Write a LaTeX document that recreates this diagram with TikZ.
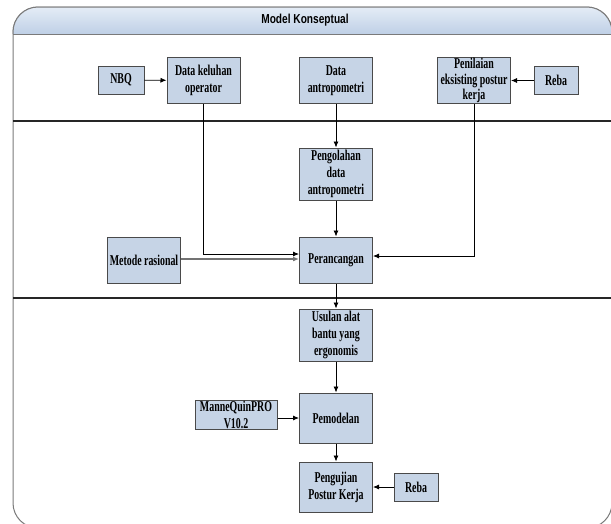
\documentclass[tikz,border=0pt]{standalone}
\usepackage{fontspec}
\setmainfont{Liberation Serif}[FakeStretch=0.66]
\newfontfamily\titlefont{Liberation Sans}[FakeStretch=0.78]
\usetikzlibrary{arrows.meta}
\definecolor{boxfill}{HTML}{C6D4E6}
\definecolor{boxline}{HTML}{4A4A4A}
\definecolor{headtop}{HTML}{E4ECF6}
\definecolor{headbot}{HTML}{BFD0E6}
\definecolor{framegray}{HTML}{7A7A7A}
\tikzset{
  procbox/.style={draw=boxline, line width=1pt, fill=boxfill, align=center,
    inner sep=1pt, font=\bfseries\fontsize{15}{17}\selectfont},
  conn/.style={draw=black, line width=0.8pt, -{Latex[length=6pt,width=5pt]}},
  divider/.style={draw=black!85, line width=1.6pt}
}
\begin{document}
\begin{tikzpicture}[x=1pt,y=-1pt]
\useasboundingbox (0,0) rectangle (611,523);
\begin{scope}
\clip (0,0) rectangle (611,523);
% frame
\draw[framegray, line width=1pt, fill=white, rounded corners=25pt] (13,7) rectangle (612,528);
\begin{scope}
\clip[rounded corners=25pt] (13,7) rectangle (612,528);
\shade[top color=headtop, bottom color=headbot] (13,7) rectangle (612,34);
\end{scope}
\draw[framegray, line width=1pt, rounded corners=25pt] (13,34) -- (13,7) -- (612,7) -- (612,34);
\draw[framegray, line width=1pt] (13,34) -- (612,34);
\node[font=\titlefont\bfseries\fontsize{13}{15}\selectfont] (title) at (305,20) {Model Konseptual};
% dividers
\draw[divider] (13,121) -- (612,121);
\draw[divider] (13,298) -- (612,298);
\end{scope}
% nodes
\node[procbox, minimum width=46pt, minimum height=28pt] (nbq) at (121,80) {NBQ};
\node[procbox, minimum width=73pt, minimum height=46pt] (kel) at (203.5,80.5) {Data keluhan\\operator};
\node[procbox, minimum width=73pt, minimum height=46pt] (ant) at (336,80.5) {Data\\antropometri};
\node[procbox, minimum width=73pt, minimum height=46pt, inner sep=0pt,
  font=\bfseries\fontsize{15}{15.5}\selectfont] (pen) at (474,80.5) {Penilaian\\eksisting postur\\kerja};
\node[procbox, minimum width=44pt, minimum height=28pt] (reba1) at (556,80.5) {Reba};
\node[procbox, minimum width=73pt, minimum height=52pt] (olah) at (336,174) {Pengolahan\\data\\antropometri};
\node[procbox, minimum width=73pt, minimum height=46pt] (met) at (144,260) {Metode rasional};
\node[procbox, minimum width=73pt, minimum height=46pt] (per) at (336,260) {Perancangan};
\node[procbox, minimum width=73pt, minimum height=52pt] (usu) at (336,335) {Usulan alat\\bantu yang\\ergonomis};
\node[procbox, minimum width=73pt, minimum height=50pt] (pem) at (336,418) {Pemodelan};
\node[procbox, minimum width=82pt, minimum height=29pt] (man) at (236,415) {ManneQuinPRO\\V10.2};
\node[procbox, minimum width=73pt, minimum height=50pt] (uji) at (336,487) {Pengujian\\Postur Kerja};
\node[procbox, minimum width=44pt, minimum height=28pt] (reba2) at (416,487) {Reba};
% connectors
\draw[conn] (nbq) -- (kel);
\draw[conn] (reba1) -- (pen);
\draw[conn] (ant) -- (olah);
\draw[conn] (olah) -- (per);
\draw[conn] (per) -- (usu);
\draw[conn] (usu) -- (pem);
\draw[conn] (man.east |- pem) -- (pem);
\draw[conn] (pem) -- (uji);
\draw[conn] (reba2) -- (uji);
\coordinate (kelc) at (kel.south |- 0,254);
\draw[conn] (kel.south) -- (kelc) -- (per.west |- kelc);
\draw[conn, draw=black!55, line width=1.2pt] (met.east |- 0,259) -- (per.west |- 0,259);
\coordinate (penc) at (pen.south |- 0,256);
\draw[conn] (pen.south) -- (penc) -- (per.east |- penc);
\end{tikzpicture}
\end{document}
